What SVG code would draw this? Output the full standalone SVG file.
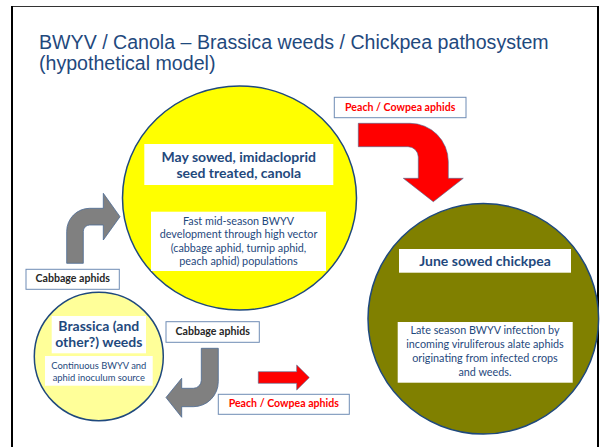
<svg xmlns="http://www.w3.org/2000/svg" width="600" height="447" viewBox="0 0 600 447">
<style>
.title{font-family:"Liberation Sans",Arial,sans-serif;font-size:19.6px;fill:#1F497D}
.hd{font-family:Lato,"Open Sans",sans-serif;font-weight:bold;fill:#1F497D;text-anchor:middle}
.bd{font-family:Lato,"Open Sans",sans-serif;fill:#1F497D;text-anchor:middle}
.lbl{font-family:Lato,"Open Sans",sans-serif;font-weight:bold;font-size:10.6px;text-anchor:middle}
.box{fill:#fff;stroke:none}
.lbox{fill:#fff;stroke:#6F8CB5;stroke-width:1}
.circ{stroke:#1F497D;stroke-width:1.5}
.grey{fill:#808080;stroke:#4A6A94;stroke-width:0.8}
.red{fill:#FF0000;stroke:#4A6A94;stroke-width:0.6}
</style>
<rect width="600" height="447" fill="#fff"/>
<g id="frame">
<line x1="11" y1="6.5" x2="599" y2="6.5" stroke="#333" stroke-width="1"/>
<line x1="12" y1="6" x2="12" y2="447" stroke="#000" stroke-width="2"/>
<line x1="598" y1="6" x2="598" y2="447" stroke="#000" stroke-width="2"/>
</g>
<g id="title">
<text class="title" x="39" y="49">BWYV / Canola – Brassica weeds / Chickpea pathosystem</text>
<text class="title" x="39" y="70">(hypothetical model)</text>
</g>
<g id="connectors">
<path class="red" d="M358.3,123.3 L410,123.3 A38.3,38.3 0 0 1 448.3,161.6 L448.3,178.3 L463.3,178.3 L433.3,201.7 L403.3,178.3 L418.3,178.3 L418.3,157 A10.3,10.3 0 0 0 408,146.7 L358.3,146.7 Z"/>
<path class="grey" d="M66.7,263.3 L66.7,231.3 A23,23 0 0 1 89.7,208.3 L103.3,208.3 L103.3,193.3 L120,216.7 L103.3,240 L103.3,225 L89.7,225 A6.4,6.4 0 0 0 83.3,231.4 L83.3,263.3 Z"/>
<path class="grey" d="M218.3,348.3 L218.3,381.7 A25,25 0 0 1 193.3,406.7 L181.7,406.7 L181.7,417.3 L166,397.5 L181.7,378.3 L181.7,388.3 L193.3,388.3 A8,8 0 0 0 201.3,380.3 L201.3,348.3 Z"/>
<path class="red" d="M258.3,371.7 L296.7,371.7 L296.7,365 L309.3,377.6 L296.7,390 L296.7,383.3 L258.3,383.3 Z"/>
</g>
<g id="canola">
<ellipse class="circ" cx="239.5" cy="198" rx="117" ry="112" fill="#FFFF00"/>
<rect class="box" x="144.3" y="144" width="189" height="41"/>
<text class="hd" font-size="14" x="238.8" y="161.7">May sowed, imidacloprid</text>
<text class="hd" font-size="14" x="238.8" y="178.3">seed treated, canola</text>
<rect class="box" x="151" y="211.7" width="175" height="59.3"/>
<text class="bd" font-size="10.8" x="238.5" y="225">Fast mid-season BWYV</text>
<text class="bd" font-size="10.8" x="238.5" y="238.3">development through high vector</text>
<text class="bd" font-size="10.8" x="238.5" y="251.7">(cabbage aphid, turnip aphid,</text>
<text class="bd" font-size="10.8" x="238.5" y="265">peach aphid) populations</text>
</g>
<g id="chickpea">
<circle class="circ" cx="483.3" cy="318.8" r="115.3" fill="#808000"/>
<rect class="box" x="399" y="249" width="172" height="23.7"/>
<text class="hd" font-size="14" x="485" y="265.7">June sowed chickpea</text>
<rect class="box" x="397.7" y="322" width="175" height="60.7"/>
<text class="bd" font-size="10.8" x="485" y="334.3">Late season BWYV infection by</text>
<text class="bd" font-size="10.8" x="485" y="348.3">incoming viruliferous alate aphids</text>
<text class="bd" font-size="10.8" x="485" y="362.3">originating from infected crops</text>
<text class="bd" font-size="10.8" x="485" y="376">and weeds.</text>
</g>
<g id="weeds">
<ellipse class="circ" cx="98.8" cy="356.5" rx="64.5" ry="64.2" fill="#FFFF99"/>
<rect class="box" x="51.7" y="316" width="94.3" height="37.3"/>
<text class="hd" font-size="14" x="98.8" y="330.7">Brassica (and</text>
<text class="hd" font-size="14" x="98.8" y="346.7">other?) weeds</text>
<rect class="box" x="45" y="356" width="107.7" height="29.7"/>
<text class="bd" font-size="9.4" x="98.8" y="369">Continuous BWYV and</text>
<text class="bd" font-size="9.4" x="98.8" y="380.7">aphid inoculum source</text>
</g>
<g id="label-peach-top">
<rect class="lbox" x="334.3" y="97.3" width="131.7" height="20.4"/>
<text class="lbl" x="400.2" y="110.7" fill="#FF0000">Peach / Cowpea aphids</text>
</g>
<g id="label-cabbage-left">
<rect class="lbox" x="26" y="269.3" width="93.3" height="20"/>
<text class="lbl" x="72.7" y="281.7" fill="#262626">Cabbage aphids</text>
</g>
<g id="label-cabbage-mid">
<rect class="lbox" x="166" y="321.7" width="93.3" height="20.6"/>
<text class="lbl" x="212.7" y="335" fill="#262626">Cabbage aphids</text>
</g>
<g id="label-peach-bottom">
<rect class="lbox" x="218.3" y="394.3" width="131" height="20"/>
<text class="lbl" x="283.8" y="407.3" fill="#FF0000">Peach / Cowpea aphids</text>
</g>
</svg>
